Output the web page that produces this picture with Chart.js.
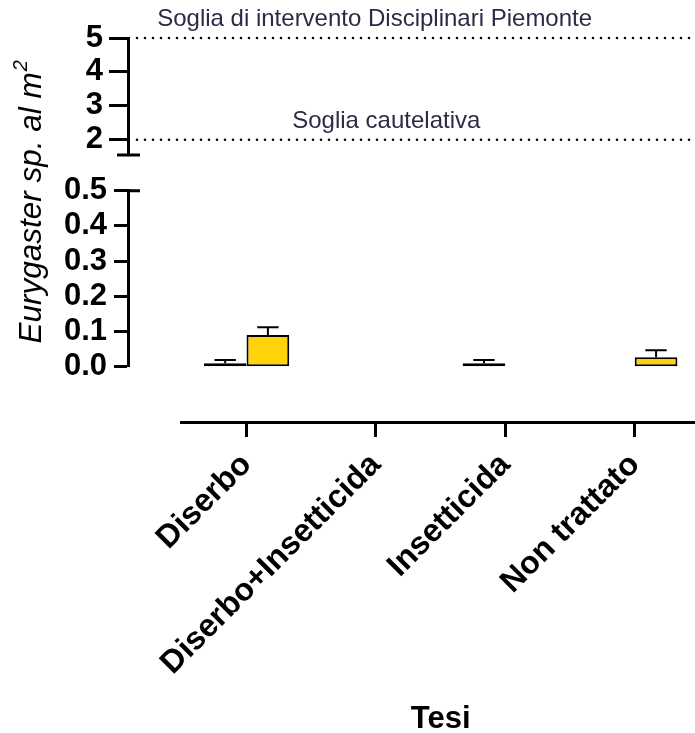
<!DOCTYPE html>
<html lang="it">
<head>
<meta charset="utf-8">
<title>Eurygaster sp. al m2 per tesi</title>
<script src="https://cdn.jsdelivr.net/npm/chart.js@4.4.1/dist/chart.umd.min.js"></script>
<style>
  html, body { margin: 0; padding: 0; background: #fff; overflow: hidden; }
  canvas { display: block; }
</style>
</head>
<body>
<canvas id="grafico" width="729" height="733"></canvas>
<script>
// tesi a confronto e medie di Eurygaster sp. al m2 (con errore standard)
const tesi = ['Diserbo', 'Diserbo+Insetticida', 'Insetticida', 'Non trattato'];
const mediaA = [0.01, null, 0.01, null];
const erroreA = [0.009, null, 0.009, null];
const mediaB = [0.09, null, null, 0.027];
const erroreB = [0.022, null, null, 0.02];

// soglie di riferimento
const soglie = [5, 2];
const nomiSoglie = ['Soglia di intervento Disciplinari Piemonte', 'Soglia cautelativa'];

// tacche dei due tratti dell'asse y spezzato
const tickAlti = [2, 3, 4, 5];
const tickBassi = [0, 0.1, 0.2, 0.3, 0.4, 0.5];

const FONT = "'Liberation Sans', Arial, Helvetica, sans-serif";
const nero = '#000';
const giallo = '#FFD20A';
const blu = '#2b2b45';

const larghezzaAsse = s => { s.width = 128; };

// tratto di asse y con tacche
function asseY(min, max, peso, tacche, fmt, tacca, pad) {
  return {
    type: 'linear', position: 'left', stack: 'v', stackWeight: peso,
    min: min, max: max,
    border: { display: true, color: nero, width: 3 },
    grid: { drawOnChartArea: false, drawTicks: true, tickLength: tacca, tickWidth: 3, tickColor: nero },
    ticks: {
      color: nero, padding: pad, autoSkip: false,
      font: { family: FONT, size: 31, weight: 'bold' }, callback: fmt
    },
    afterBuildTicks: s => { s.ticks = tacche.map(v => ({ value: v })); },
    afterFit: larghezzaAsse
  };
}

// spazio vuoto tra i tratti dell'asse
function spazio(peso, pos, stack) {
  return {
    type: 'linear', position: pos, stack: stack, stackWeight: peso,
    border: { display: false }, grid: { display: false }, ticks: { display: false },
    afterFit: pos === 'left' ? larghezzaAsse : s => { s.height = 311; }
  };
}

const dettagli = {
  id: 'dettagli',
  afterDatasetsDraw(chart) {
    const ctx = chart.ctx;
    const yB = chart.scales.y;
    const errori = [erroreA, erroreB];
    chart.data.datasets.forEach((ds, i) => {
      chart.getDatasetMeta(i).data.forEach((bar, j) => {
        const m = ds.data[j], e = errori[i][j];
        if (m == null || e == null) return;
        const top = yB.getPixelForValue(m + e);
        ctx.save();
        ctx.strokeStyle = nero;
        ctx.lineWidth = 2;
        ctx.beginPath();
        ctx.moveTo(bar.x, bar.y);
        ctx.lineTo(bar.x, top);
        ctx.moveTo(bar.x - bar.width / 4, top);
        ctx.lineTo(bar.x + bar.width / 4, top);
        ctx.stroke();
        ctx.restore();
      });
    });
  },
  afterDraw(chart, args, opts) {
    const ctx = chart.ctx;
    const yA = chart.scales.yAlto, yB = chart.scales.y, x = chart.scales.x;
    const asseX = yA.right - 1;

    // linee di soglia tratteggiate con etichetta
    soglie.forEach((s, i) => {
      const py = yA.getPixelForValue(s);
      ctx.save();
      ctx.strokeStyle = nero;
      ctx.lineWidth = 2.6;
      ctx.lineCap = 'round';
      ctx.setLineDash([0, 8]);
      ctx.beginPath();
      ctx.moveTo(asseX + 10, py);
      ctx.lineTo(chart.width, py);
      ctx.stroke();
      ctx.restore();

      ctx.save();
      ctx.fillStyle = blu;
      ctx.font = '24px ' + FONT;
      ctx.textAlign = 'center';
      ctx.textBaseline = 'alphabetic';
      ctx.fillText(nomiSoglie[i], x.getPixelForValue(opts.posEtichette[i]), py - 12);
      ctx.restore();
    });

    // segni di interruzione dell'asse
    ctx.save();
    ctx.strokeStyle = nero;
    ctx.lineWidth = 3;
    ctx.beginPath();
    ctx.moveTo(asseX - 10, yA.bottom);
    ctx.lineTo(asseX + 13, yA.bottom);
    ctx.moveTo(asseX, yB.top);
    ctx.lineTo(asseX + 13, yB.top);
    ctx.stroke();
    ctx.restore();

    // titolo asse y con esponente
    const testo = 'Eurygaster sp. al m', esp = '2';
    ctx.save();
    ctx.translate(32, (yA.top + yB.bottom) / 2);
    ctx.rotate(-Math.PI / 2);
    ctx.fillStyle = nero;
    ctx.textBaseline = 'middle';
    ctx.font = 'italic 31.5px ' + FONT;
    const w1 = ctx.measureText(testo).width;
    ctx.font = 'italic 20px ' + FONT;
    const w2 = ctx.measureText(esp).width;
    const x0 = -(w1 + w2) / 2;
    ctx.font = 'italic 31.5px ' + FONT;
    ctx.textAlign = 'left';
    ctx.fillText(testo, x0, 0);
    ctx.font = 'italic 20px ' + FONT;
    ctx.fillText(esp, x0 + w1 + 1, -11);
    ctx.restore();
  }
};

new Chart(document.getElementById('grafico'), {
  type: 'bar',
  data: {
    labels: tesi,
    datasets: [
      {
        label: 'A', data: mediaA, xAxisID: 'x', yAxisID: 'y',
        backgroundColor: '#fff', borderColor: nero, borderWidth: 2, borderSkipped: false,
        barPercentage: 1, categoryPercentage: 0.66
      },
      {
        label: 'B', data: mediaB, xAxisID: 'x', yAxisID: 'y',
        backgroundColor: giallo, borderColor: nero, borderWidth: 2, borderSkipped: false,
        barPercentage: 1, categoryPercentage: 0.66
      }
    ]
  },
  options: {
    responsive: false,
    animation: false,
    layout: { padding: { top: 38, right: 4, bottom: 0, left: 0 } },
    plugins: {
      legend: { display: false },
      tooltip: { enabled: false },
      dettagli: { posEtichette: [0.99, 1.08] }
    },
    scales: {
      xPad: spazio(54, 'bottom', 'h'),
      x: {
        type: 'category', position: 'bottom', stack: 'h', stackWeight: 519,
        offset: true,
        border: { display: true, color: nero, width: 3 },
        grid: { offset: false, drawOnChartArea: false, drawTicks: true, tickLength: 15, tickWidth: 3, tickColor: nero },
        ticks: {
          color: nero, autoSkip: false, minRotation: 45, maxRotation: 45, padding: 9,
          font: { family: FONT, size: 32, weight: 'bold' }
        },
        title: {
          display: true, text: 'Tesi', color: nero, padding: { top: 0, bottom: -5 },
          font: { family: FONT, size: 31, weight: 'bold' }
        },
        afterFit: s => { s.height = 311; }
      },
      yPadBasso: spazio(55.3, 'left', 'v'),
      y: asseY(0, 0.5, 176, tickBassi, v => v.toFixed(1), 14, 7),
      yPadMedio: spazio(35.7, 'left', 'v'),
      yAlto: asseY(1.55, 5, 117, tickAlti, v => String(v), 19, 6)
    }
  },
  plugins: [dettagli]
});
</script>
</body>
</html>
